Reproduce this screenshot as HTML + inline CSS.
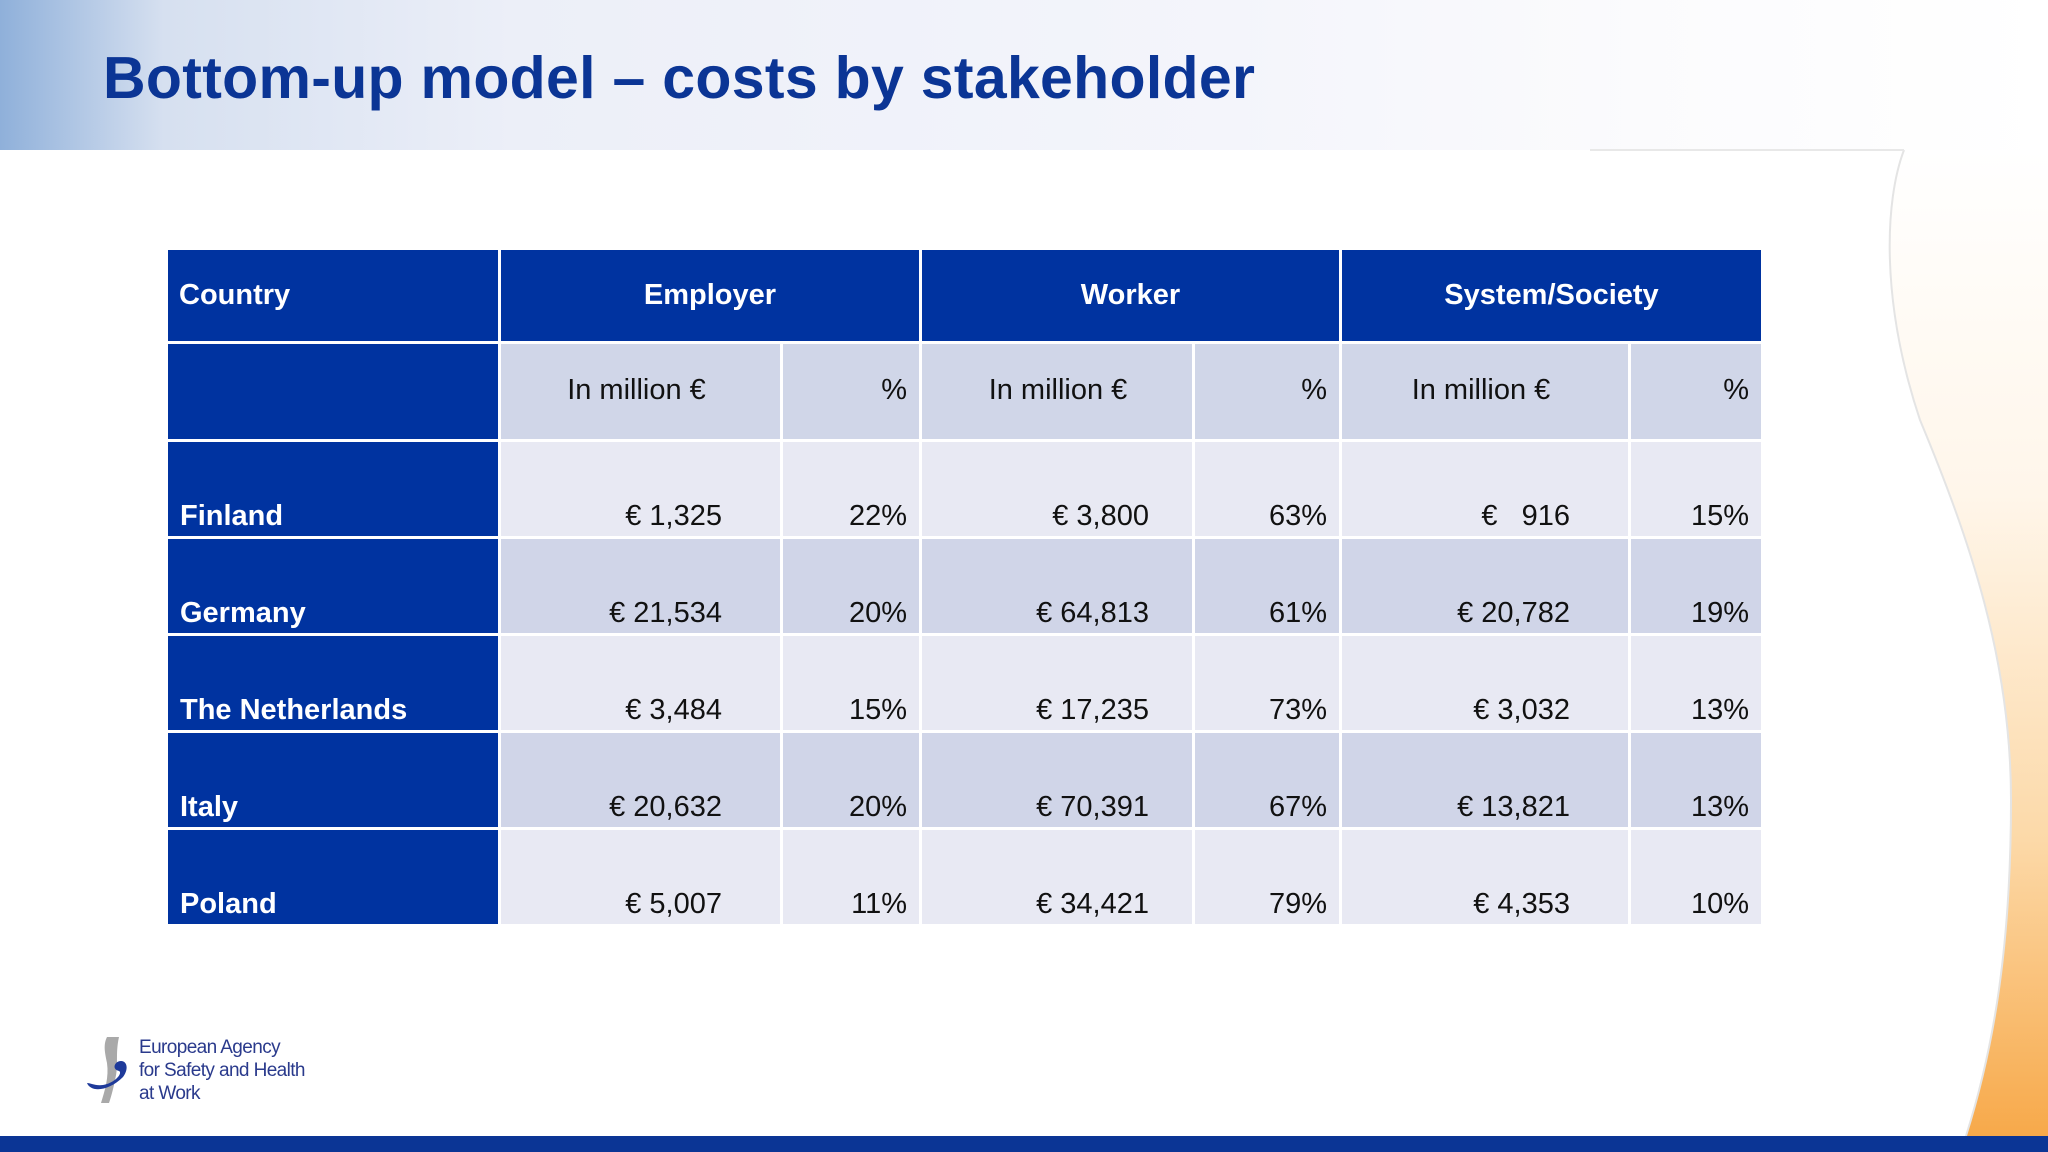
<!DOCTYPE html>
<html><head><meta charset="utf-8">
<style>
html,body{margin:0;padding:0}
body{width:2048px;height:1152px;position:relative;overflow:hidden;background:#fff;font-family:"Liberation Sans",sans-serif}
#hdr{position:absolute;left:0;top:0;width:2048px;height:150px;background:linear-gradient(90deg,#8fb0da 0%,#d6e0f0 8%,#eceff8 25%,#f4f5fb 60%,#fbfbfd 80%,#fff 100%)}
#title{position:absolute;left:103px;top:44px;font-size:59px;font-weight:bold;color:#0b3595;white-space:nowrap;letter-spacing:0.3px}
#deco{position:absolute;left:0;top:0}
table{position:absolute;left:165px;top:247px;border-collapse:collapse;table-layout:fixed}
td{border:3px solid #fff;padding:0 12px 3px 12px;font-size:29px;color:#111;text-align:right;vertical-align:bottom;white-space:nowrap}
tr.h td{background:#0033a0;color:#fff;font-weight:bold;text-align:center;vertical-align:middle;height:91px;padding:0}
tr.s td{background:#d0d6e8;vertical-align:middle;height:92px}
td.c{background:#0033a0 !important;color:#fff;font-weight:bold;text-align:left}
tr.o td{background:#e8e9f3;height:91px}
tr.e td{background:#d0d5e8;height:91px}
#logo{position:absolute;left:85px;top:1035px}
#logotext{position:absolute;left:139px;top:1036px;font-size:19px;line-height:23px;color:#2a3a8c;letter-spacing:-0.6px}
#bar{position:absolute;left:0;top:1136px;width:2048px;height:16px;background:#0b3595}
</style></head><body>
<div id="hdr"></div>
<svg id="deco" width="2048" height="1152">
<defs><linearGradient id="og" x1="0" y1="0" x2="0" y2="1">
<stop offset="0" stop-color="#ffffff"/><stop offset="0.35" stop-color="#fff6ea"/><stop offset="0.7" stop-color="#fcd9a8"/><stop offset="1" stop-color="#f7a94a"/></linearGradient></defs>
<path d="M1590,150 L1904,150 C1885,200 1880,300 1920,420 C1970,540 2011,660 2011,800 C2011,960 1990,1060 1966,1136 L2048,1136 L2048,150 Z" fill="url(#og)"/>
<path d="M1904,150 C1885,200 1880,300 1920,420 C1970,540 2011,660 2011,800 C2011,960 1990,1060 1966,1136" fill="none" stroke="#e4e4e4" stroke-width="2"/>
<line x1="1590" y1="150" x2="1904" y2="150" stroke="#e8e8e8" stroke-width="2"/>
</svg>
<div id="title">Bottom-up model – costs by stakeholder</div>
<table>
<colgroup><col style="width:333px"><col style="width:282px"><col style="width:139px"><col style="width:273px"><col style="width:147px"><col style="width:289px"><col style="width:133px"></colgroup>
<tr class="h"><td style="text-align:left;padding-left:11px">Country</td><td colspan="2">Employer</td><td colspan="2">Worker</td><td colspan="2">System/Society</td></tr>
<tr class="s"><td class="c"></td><td style="text-align:center;padding-right:20px">In million €</td><td>%</td><td style="text-align:center;padding-right:10px">In million €</td><td>%</td><td style="text-align:center;padding-right:20px">In million €</td><td>%</td></tr>
<tr class="o"><td class="c">Finland</td><td style="padding-right:58px">€ 1,325</td><td>22%</td><td style="padding-right:43px">€ 3,800</td><td>63%</td><td style="padding-right:58px">€&nbsp;&nbsp;&nbsp;916</td><td>15%</td></tr>
<tr class="e"><td class="c">Germany</td><td style="padding-right:58px">€ 21,534</td><td>20%</td><td style="padding-right:43px">€ 64,813</td><td>61%</td><td style="padding-right:58px">€ 20,782</td><td>19%</td></tr>
<tr class="o"><td class="c">The Netherlands</td><td style="padding-right:58px">€ 3,484</td><td>15%</td><td style="padding-right:43px">€ 17,235</td><td>73%</td><td style="padding-right:58px">€ 3,032</td><td>13%</td></tr>
<tr class="e"><td class="c">Italy</td><td style="padding-right:58px">€ 20,632</td><td>20%</td><td style="padding-right:43px">€ 70,391</td><td>67%</td><td style="padding-right:58px">€ 13,821</td><td>13%</td></tr>
<tr class="o"><td class="c">Poland</td><td style="padding-right:58px">€ 5,007</td><td>11%</td><td style="padding-right:43px">€ 34,421</td><td>79%</td><td style="padding-right:58px">€ 4,353</td><td>10%</td></tr>
</table>
<svg id="logo" width="50" height="70">
<path d="M22,2 L34,2 C30,20 34,30 30,45 C28,55 26,62 24,68 L16,68 C20,55 24,42 22,28 C20,18 18,10 22,2 Z" fill="#a9a9a9"/>
<path d="M2,48 C6,58 24,56 38,42 C44,34 42,26 36,26 C30,26 26,34 34,36 C38,38 30,48 18,50 C10,51 6,48 2,48 Z" fill="#1e3a9a"/>
</svg>
<div id="logotext">European Agency<br>for Safety and Health<br>at Work</div>
<div id="bar"></div>
</body></html>
